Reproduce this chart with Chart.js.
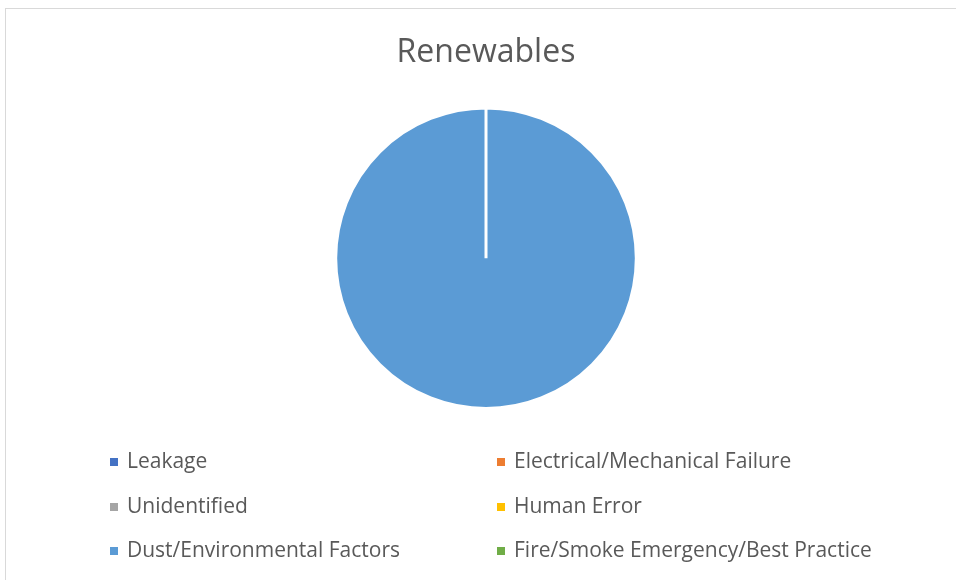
<!DOCTYPE html>
<html>
<head>
<meta charset="utf-8">
<script src="https://cdn.jsdelivr.net/npm/chart.js@4.4.0/dist/chart.umd.min.js"></script>
<style>
  html, body { margin: 0; padding: 0; background: #fff; }
  #wrap { position: relative; width: 956px; height: 580px; overflow: hidden; font-family: 'Open Sans', sans-serif; }
  #frame { position: absolute; left: 5px; top: 8px; right: -2px; bottom: -2px; border-left: 1px solid #d9d9d9; border-top: 1px solid #d9d9d9; }
  #chart { position: absolute; left: 0; top: 0; }
  .lg-item { position: absolute; height: 24px; line-height: 24px; font-size: 21px; color: #595959; white-space: nowrap; }
  .lg-box { position: absolute; width: 8px; height: 8px; top: 8px; }
  .lg-text { position: absolute; left: 17px; top: -2px; }
</style>
</head>
<body>
<div id="wrap">
  <div id="frame"></div>
  <canvas id="chart" width="956" height="580"></canvas>
  <div id="legend"></div>
</div>
<script>
const TITLE = 'Renewables';
const CATEGORIES = ['Leakage', 'Electrical/Mechanical Failure', 'Unidentified', 'Human Error', 'Dust/Environmental Factors', 'Fire/Smoke Emergency/Best Practice'];
const VALUES = [0, 0, 0, 0, 1, 0];
const COLORS = ['#4472C4', '#ED7D31', '#A5A5A5', '#FFC000', '#5B9BD5', '#70AD47'];

// legend grid positions (two columns, row-major like the original)
const LEGEND_COLS = [110, 497];
const LEGEND_ROWS = [450, 494.5, 539];

Chart.defaults.font.family = "'Open Sans', sans-serif";

const chart = new Chart(document.getElementById('chart').getContext('2d'), {
  type: 'pie',
  data: {
    labels: CATEGORIES,
    datasets: [{
      data: VALUES,
      backgroundColor: COLORS,
      borderColor: '#FFFFFF',
      borderWidth: 3,
      hoverOffset: 0
    }]
  },
  options: {
    responsive: false,
    animation: false,
    layout: { padding: { left: 16, right: 0, top: 0, bottom: 170 } },
    plugins: {
      legend: { display: false },
      tooltip: { enabled: false },
      title: {
        display: true,
        text: TITLE,
        color: '#595959',
        font: { size: 32, weight: 'normal' },
        padding: { top: 34, bottom: 34 }
      }
    }
  }
});

function renderLegend() {
  const el = document.getElementById('legend');
  el.innerHTML = CATEGORIES.map((c, i) => {
    const x = LEGEND_COLS[i % 2];
    const y = LEGEND_ROWS[Math.floor(i / 2)];
    return `<div class="lg-item" style="left:${x}px;top:${y}px">
      <span class="lg-box" style="background:${COLORS[i]}"></span>
      <span class="lg-text">${c}</span>
    </div>`;
  }).join('');
}

renderLegend();
</script>
</body>
</html>
